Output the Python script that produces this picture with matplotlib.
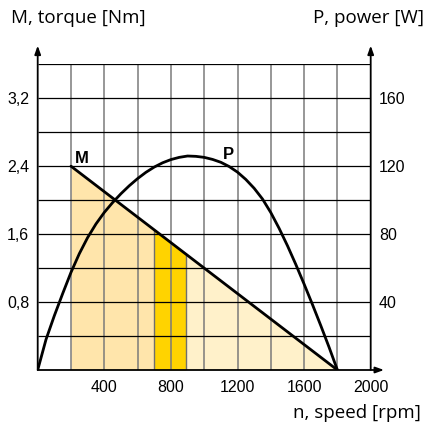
import numpy as np
import matplotlib
matplotlib.use("Agg")
import matplotlib.pyplot as plt

plt.rcParams['font.family'] = ['Liberation Sans', 'DejaVu Sans']

# torque line
m_speed = [200, 1800]
m_torque = [2.4, 0.0]

# power curve (W)
p_speed = [0, 50, 100, 150, 200, 250, 300, 350, 400, 450, 500, 550, 600, 650,
           700, 750, 800, 850, 900, 950, 1000, 1050, 1100, 1150, 1200, 1250,
           1300, 1350, 1400, 1450, 1500, 1550, 1600, 1650, 1700, 1750, 1800]
p_power = [0, 18, 32, 45, 57.5, 68.5, 78, 86, 92.8, 98.6, 103.8, 108.5, 112.7, 116.4,
           119.5, 122, 123.9, 125.2, 126, 125.8, 125.2, 124, 122.3, 119.8, 116.5, 112.2,
           107, 100.7, 92.7, 83.4, 73.2, 62.2, 50.6, 38.6, 26.2, 13.4, 0]

# shaded speed zones
zone_edges = [200, 700, 890, 1800]
zone_colors = ['#FFE5AB', '#FFD300', '#FFF1CA']

x_ticks = [400, 800, 1200, 1600, 2000]
y_ticks = [0.8, 1.6, 2.4, 3.2]
y_labels = ['0,8', '1,6', '2,4', '3,2']
p_ticks = [40, 80, 120, 160]

W_PER_NM = 50.0  # right axis scale: 160 W aligned with 3.2 Nm

fig = plt.figure(figsize=(4.23, 4.23), dpi=100)
ax = fig.add_axes([37.7/423, 1-370/423, 333/423, 305.7/423])
ax.set_xlim(0, 2000)
ax.set_ylim(0, 3.6)
for s in ax.spines.values():
    s.set_visible(False)

# fills
for i in range(len(zone_colors)):
    xs = np.linspace(zone_edges[i], zone_edges[i+1], 50)
    ys = np.interp(xs, m_speed, m_torque)
    ax.fill_between(xs, 0, ys, color=zone_colors[i], lw=0, zorder=1)
for e in zone_edges[1:3]:
    ax.plot([e, e], [0, np.interp(e, m_speed, m_torque)], color='#6e6e6e', lw=1.0, zorder=2)

# grid
for x in range(200, 2000, 200):
    ax.plot([x, x], [0, 3.6], color='#7a7a7a', lw=1.1, zorder=2, solid_capstyle='butt')
for y in np.arange(0.4, 3.61, 0.4):
    ax.plot([0, 2000], [y, y], color='black', lw=0.9, zorder=2, solid_capstyle='butt')

# axes with arrows
arrow = dict(arrowstyle='-|>,head_length=0.5,head_width=0.18', color='black', lw=1.3,
             shrinkA=0, shrinkB=0)
ax.annotate('', xy=(0, 3.82), xytext=(0, 0), arrowprops=arrow, annotation_clip=False, zorder=5)
ax.annotate('', xy=(2000, 3.82), xytext=(2000, 0), arrowprops=arrow, annotation_clip=False, zorder=5)
ax.annotate('', xy=(2080, 0), xytext=(0, 0), arrowprops=arrow, annotation_clip=False, zorder=5)

# curves
ax.plot(m_speed, m_torque, color='black', lw=2.0, zorder=4, solid_capstyle='round')
ax.plot(p_speed, np.array(p_power) / W_PER_NM, color='black', lw=2.0, zorder=4,
        solid_joinstyle='round')

ax.text(222, 2.44, 'M', fontsize=12, fontweight='bold', ha='left', va='baseline')
ax.text(1110, 2.48, 'P', fontsize=12, fontweight='bold', ha='left', va='baseline')

# ticks
ax.set_xticks(x_ticks)
ax.set_xticklabels([str(v) for v in x_ticks])
ax.set_yticks(y_ticks)
ax.set_yticklabels(y_labels)
ax.tick_params(length=0, labelsize=11.5, pad=6)
ax.tick_params(axis='x', pad=7)

ax2 = ax.twinx()
ax2.set_ylim(0, 3.6 * W_PER_NM)
for s in ax2.spines.values():
    s.set_visible(False)
ax2.set_yticks(p_ticks)
ax2.set_yticklabels([str(v) for v in p_ticks])
ax2.tick_params(length=0, labelsize=11.5, pad=6)

tfont = dict(fontsize=13.5, family=['Open Sans', 'DejaVu Sans'])
fig.text(11/423, 1-18/423, 'M, torque [Nm]', ha='left', va='center', **tfont)
fig.text(313/423, 1-18/423, 'P, power [W]', ha='left', va='center', **tfont)
fig.text(421/423, 1-413/423, 'n, speed [rpm]', ha='right', va='center', **tfont)

fig.savefig('out.png', dpi=100)
